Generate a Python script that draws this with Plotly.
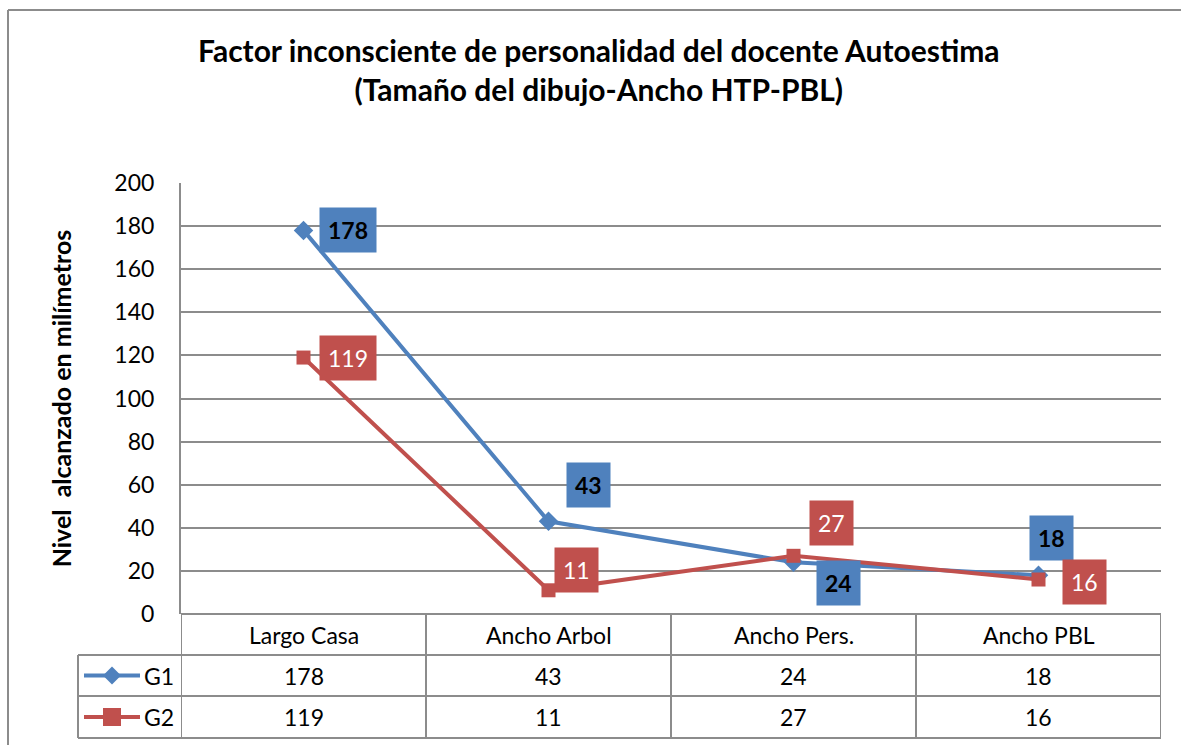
import plotly.graph_objects as go

categories = ["Largo Casa", "Ancho Arbol", "Ancho Pers.", "Ancho PBL"]
series_names = ["G1", "G2"]
g1_values = [178, 43, 24, 18]
g2_values = [119, 11, 27, 16]
y_ticks = [0, 20, 40, 60, 80, 100, 120, 140, 160, 180, 200]

BLUE = "#4F81BD"
RED = "#C0504D"
GRID = "#8C8C8C"
FONT = "Lato"
FS = 23

W, H = 1181, 745
L, R, T, B = 181, 1161, 183, 614
plot_h = B - T
plot_w = R - L

def py(pix):  # pixel y -> paper y
    return (B - pix) / plot_h

def px(pix):  # pixel x -> paper x
    return (pix - L) / plot_w

xs = list(range(len(categories)))

fig = go.Figure()
fig.add_trace(go.Scatter(x=xs, y=g1_values, mode="lines+markers", name="G1",
                         line=dict(color=BLUE, width=4),
                         marker=dict(symbol="diamond", size=15, color=BLUE),
                         showlegend=False, cliponaxis=False))
fig.add_trace(go.Scatter(x=xs, y=g2_values, mode="lines+markers", name="G2",
                         line=dict(color=RED, width=4),
                         marker=dict(symbol="square", size=14, color=RED),
                         showlegend=False, cliponaxis=False))

# data labels (offsets in pixels)
g1_off = [(44, 0), (40, 36), (45, -21), (13, 37)]
g2_off = [(44, 0), (28, 20), (38, 33), (46, -2)]
for i, v in enumerate(g1_values):
    dx, dy = g1_off[i]
    fig.add_annotation(x=xs[i], y=v, text=f"<b>{v}</b>", showarrow=False,
                       xshift=dx, yshift=dy, bgcolor=BLUE,
                       font=dict(family=FONT, size=FS, color="black"),
                       borderpad=8)
for i, v in enumerate(g2_values):
    dx, dy = g2_off[i]
    fig.add_annotation(x=xs[i], y=v, text=str(v), showarrow=False,
                       xshift=dx, yshift=dy, bgcolor=RED,
                       font=dict(family=FONT, size=FS, color="white"),
                       borderpad=8)

# data table
row_edges = [614, 655, 696, 738]
table_left = 78
line_style = dict(color=GRID, width=2)
fig.add_shape(type="line", xref="paper", yref="paper", x0=0, x1=1,
              y0=py(row_edges[0]), y1=py(row_edges[0]), line=line_style)
for e in row_edges[1:]:
    fig.add_shape(type="line", xref="paper", yref="paper", x0=px(table_left), x1=1,
                  y0=py(e), y1=py(e), line=line_style)
for k in range(len(categories) + 1):
    fig.add_shape(type="line", xref="x", yref="paper", x0=k - 0.5, x1=k - 0.5,
                  y0=py(row_edges[0]), y1=py(row_edges[-1]), line=line_style)
fig.add_shape(type="line", xref="paper", yref="paper", x0=px(table_left), x1=px(table_left),
              y0=py(row_edges[1]), y1=py(row_edges[-1]), line=line_style)

for i, c in enumerate(categories):
    fig.add_annotation(x=xs[i], y=py((row_edges[0] + row_edges[1]) / 2), yref="paper",
                       xanchor="center", yanchor="middle",
                       text=c, showarrow=False, font=dict(family=FONT, size=FS, color="black"))
for r, (name, vals, col, sym) in enumerate([("G1", g1_values, BLUE, "diamond"),
                                             ("G2", g2_values, RED, "square")]):
    yc = py((row_edges[r + 1] + row_edges[r + 2]) / 2)
    for i, v in enumerate(vals):
        fig.add_annotation(x=xs[i], y=yc, yref="paper", text=str(v), showarrow=False,
                           xanchor="center", yanchor="middle",
                           font=dict(family=FONT, size=FS, color="black"))
    fig.add_annotation(x=px(159), y=yc, xref="paper", yref="paper", text=name,
                       xanchor="center", yanchor="middle",
                       showarrow=False, font=dict(family=FONT, size=FS, color="black"))
    fig.add_shape(type="line", xref="paper", yref="paper", x0=px(84), x1=px(140),
                  y0=yc, y1=yc, line=dict(color=col, width=4))
    if sym == "diamond":
        path = "M -9 0 L 0 9 L 9 0 L 0 -9 Z"
    else:
        path = "M -9 -9 L 9 -9 L 9 9 L -9 9 Z"
    fig.add_shape(type="path", xref="paper", yref="paper", xsizemode="pixel",
                  ysizemode="pixel", xanchor=px(112), yanchor=yc, path=path,
                  fillcolor=col, line=dict(width=0))

# outer chart border (left and top)
fig.add_shape(type="line", xref="paper", yref="paper", x0=px(8), x1=px(8),
              y0=py(10), y1=py(745), line=dict(color=GRID, width=2))
fig.add_shape(type="line", xref="paper", yref="paper", x0=px(8), x1=px(1181),
              y0=py(10), y1=py(10), line=dict(color=GRID, width=2))

fig.update_layout(
    width=W, height=H,
    margin=dict(l=L, r=W - R, t=T, b=H - B),
    paper_bgcolor="white", plot_bgcolor="white",
    title=dict(text="<b>Factor inconsciente de personalidad del docente Autoestima<br>(Tamaño del dibujo-Ancho HTP-PBL)</b>",
               x=0.507, xref="container", xanchor="center",
               y=1 - 62 / H, yref="container", yanchor="middle",
               font=dict(family=FONT, size=30, color="black")),
    xaxis=dict(range=[-0.5, len(categories) - 0.5], showticklabels=False,
               showgrid=False, zeroline=False, showline=False, fixedrange=True),
    yaxis=dict(range=[0, 200], tickvals=y_ticks, showgrid=True, gridcolor=GRID,
               gridwidth=2, zeroline=False, showline=True, linecolor=GRID, linewidth=2,
               ticks="", ticklabelstandoff=20,
               tickfont=dict(family=FONT, size=FS, color="black"),
               title=dict(text="<b>Nivel  alcanzado en milímetros</b>", standoff=36,
                          font=dict(family=FONT, size=25, color="black"))),
    showlegend=False,
)

fig.write_html("out.html", config={"displayModeBar": False},
               post_script="document.body.style.margin='0';document.body.style.overflow='hidden';")
